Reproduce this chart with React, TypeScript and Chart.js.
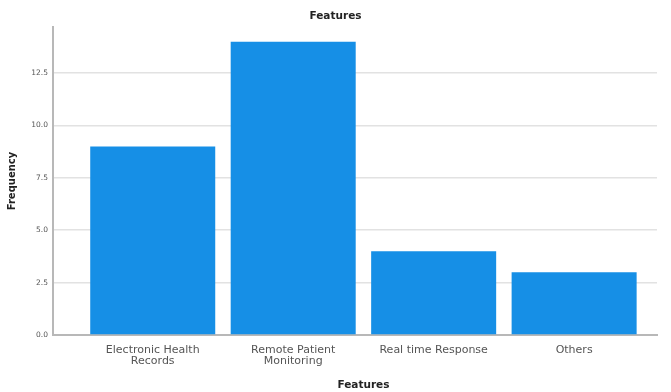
import React, { useEffect, useRef } from "react";
import { Chart, registerables } from "chart.js";

Chart.register(...registerables);

// Feature categories (each entry is the wrapped label lines)
const categoryLabels: string[][] = [
  ["Electronic Health", "Records"],
  ["Remote Patient", "Monitoring"],
  ["Real time Response"],
  ["Others"],
];
// Frequency per feature
const frequencies: number[] = [9, 14, 4, 3];
// Y axis ticks
const yTicks: number[] = [0, 2.5, 5, 7.5, 10, 12.5];

const chartTitle = "Features";
const xAxisTitle = "Features";
const yAxisTitle = "Frequency";

const FONT = "'DejaVu Sans', Verdana, sans-serif";
const BAR_COLOR = "#168fe6";

// Draws the chart title centred on the canvas and the x axis title
// centred under the category columns
const titlesPlugin = {
  id: "featureTitles",
  afterDraw(chart: any) {
    const xs = chart.scales.x;
    const mid = (0 + (categoryLabels.length - 1)) / 2;
    const px = xs.getPixelForValue(mid);
    const ctx = chart.ctx;
    ctx.save();
    ctx.font = `bold 10.5px ${FONT}`;
    ctx.fillStyle = "#222";
    ctx.textAlign = "center";
    ctx.textBaseline = "middle";
    ctx.fillText(chartTitle, chart.width / 2, 16);
    ctx.fillText(xAxisTitle, px, 385);
    ctx.restore();
  },
};

export default function App() {
  const ref = useRef<HTMLCanvasElement | null>(null);

  useEffect(() => {
    if (!ref.current) return;
    const chart = new Chart(ref.current, {
      type: "bar",
      data: {
        datasets: [
          {
            label: yAxisTitle,
            data: frequencies.map((v, i) => ({ x: i, y: v })),
            backgroundColor: BAR_COLOR,
            borderWidth: 0,
            barPercentage: 0.89,
            categoryPercentage: 1,
          },
        ],
      },
      options: {
        responsive: false,
        animation: false,
        layout: { padding: { left: 4, right: 14, top: 27, bottom: 0 } },
        plugins: {
          legend: { display: false },
          tooltip: { enabled: false },
          title: { display: false },
        },
        scales: {
          x: {
            type: "linear",
            offset: false,
            min: -0.71,
            max: 3.59,
            grid: { display: false, drawTicks: false, offset: false },
            border: { display: true, color: "#b8b8b8", width: 2 },
            afterBuildTicks: (scale: any) => {
              scale.ticks = categoryLabels.map((_, i) => ({ value: i }));
            },
            afterFit: (scale: any) => {
              scale.height = 57;
            },
            ticks: {
              autoSkip: false,
              maxRotation: 0,
              padding: 10,
              color: "#555",
              font: { family: FONT, size: 11, lineHeight: 1.0 },
              callback: (v: any) => categoryLabels[Math.round(Number(v))] ?? "",
            },
          },
          y: {
            type: "linear",
            min: 0,
            max: 14.7,
            grid: { color: "#e2e2e2", lineWidth: 1.5, drawTicks: false },
            border: { display: true, color: "#b8b8b8", width: 2 },
            afterBuildTicks: (scale: any) => {
              scale.ticks = yTicks.map((v) => ({ value: v }));
            },
            afterFit: (scale: any) => {
              scale.width = 49;
            },
            ticks: {
              padding: 5,
              color: "#555",
              font: { family: FONT, size: 7.5 },
              callback: (v: any) => Number(v).toFixed(1),
            },
            title: {
              display: true,
              text: yAxisTitle,
              color: "#222",
              font: { family: FONT, size: 10, weight: "bold" },
              padding: { top: 2, bottom: 0 },
            },
          },
        },
      } as any,
      plugins: [titlesPlugin],
    });
    return () => chart.destroy();
  }, []);

  return (
    <>
      <style>{"body{margin:0;background:#fff}"}</style>
      <div style={{ width: 671, height: 392, background: "#fff" }}>
        <canvas ref={ref} width={671} height={392} />
      </div>
    </>
  );
}
